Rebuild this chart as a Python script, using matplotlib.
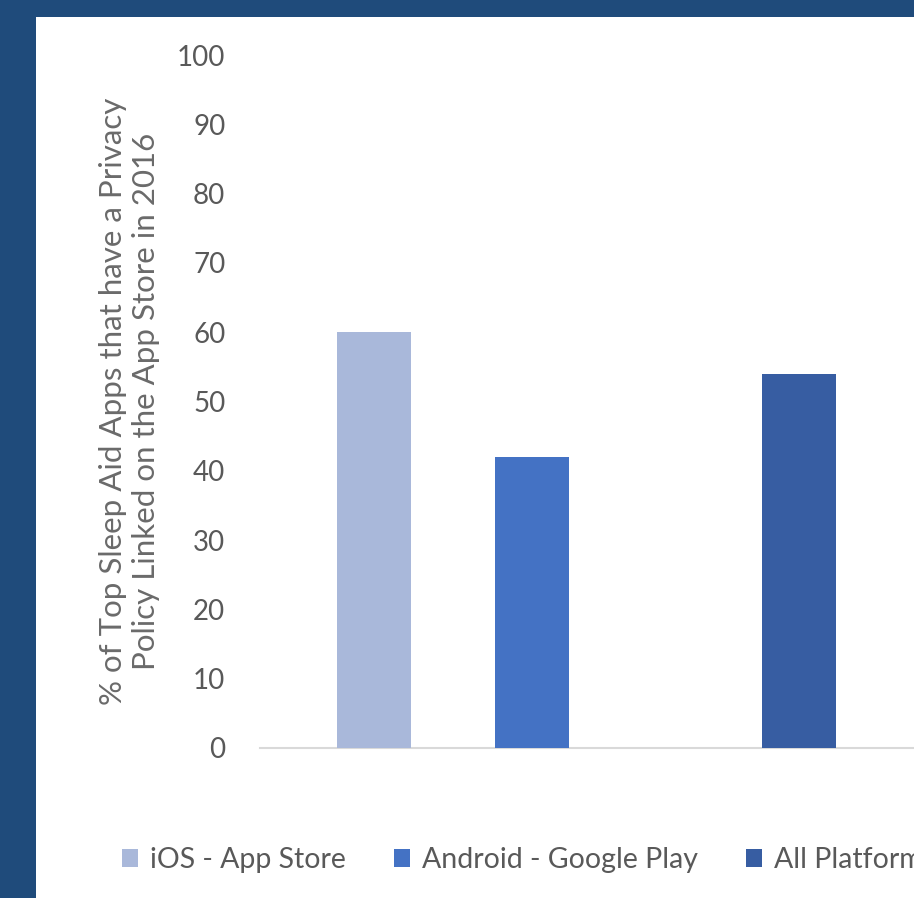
import matplotlib.pyplot as plt
from matplotlib.patches import Patch, Rectangle

# data
series = ["iOS - App Store", "Android - Google Play", "All Platforms"]
values = [60, 42, 54]
colors = ["#A9B8DA", "#4472C4", "#375DA2"]
y_ticks = [0, 10, 20, 30, 40, 50, 60, 70, 80, 90, 100]
y_label = "% of Top Sleep Aid Apps that have a Privacy\nPolicy Linked on the App Store in 2016"

# layout
W, H = 914, 898
BAR_POS = [0, 1, 2.69]
BAR_W = 0.47
TEXT = "#595959"
BG = "#1F4B7B"

plt.rcParams["font.family"] = ["Lato", "DejaVu Sans"]

fig = plt.figure(figsize=(W / 100, H / 100), dpi=100)
fig.patch.set_facecolor(BG)
fig.add_artist(Rectangle((36 / W, 0), 1, 1 - 17 / H, transform=fig.transFigure,
                         facecolor="white", edgecolor="none", zorder=0))

ax = fig.add_axes([260 / W, 150 / H, (W - 260) / W, (748 - 55) / H])
ax.set_facecolor("none")
ax.bar(BAR_POS, values, width=BAR_W, color=colors, zorder=3)

ax.set_xlim(-0.72, 3.42)
ax.set_ylim(0, 100)
ax.set_yticks(y_ticks)
ax.set_xticks([])
ax.tick_params(axis="y", length=0, pad=25, labelsize=20, labelcolor=TEXT)
for s in ["top", "right", "left"]:
    ax.spines[s].set_visible(False)
ax.spines["bottom"].set_color("#D9D9D9")
ax.spines["bottom"].set_linewidth(1.5)

ax.set_ylabel(y_label, fontsize=22.5, color="#6A6A6A", linespacing=1.2)
ax.yaxis.set_label_coords((160 - 260) / (W - 260), 0.5)

handles = [Patch(facecolor=c, edgecolor="none") for c in colors]
fig.legend(handles, series, loc="center left", bbox_to_anchor=(122 / W, 1 - 860 / H),
           ncol=3, frameon=False, fontsize=20.5, labelcolor=TEXT,
           borderpad=0, borderaxespad=0,
           handlelength=0.55, handleheight=0.55, handletextpad=0.42, columnspacing=1.7)

fig.savefig("out.png", dpi=100, facecolor=fig.get_facecolor())
